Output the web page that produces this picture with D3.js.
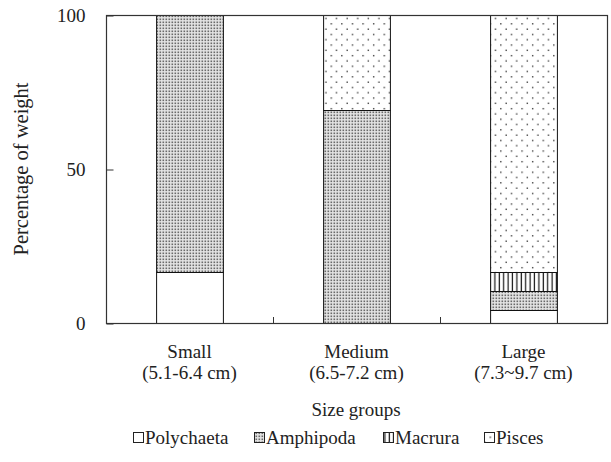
<!DOCTYPE html>
<html><head><meta charset="utf-8">
<script src="https://cdn.jsdelivr.net/npm/d3@7"></script>
<style>body{margin:0;background:#fff}svg{display:block}</style>
</head><body>
<svg id="c" width="611" height="462"></svg>
<script>
const categories = ["Small", "Medium", "Large"];
const subLabels = ["(5.1-6.4 cm)", "(6.5-7.2 cm)", "(7.3~9.7 cm)"];
const seriesNames = ["Polychaeta", "Amphipoda", "Macrura", "Pisces"];
const polychaeta = [16.5, 0, 4.3];
const amphipoda = [83.5, 69, 6.2];
const macrura = [0, 0, 6.2];
const pisces = [0, 31, 83.3];
const yTicks = [0, 50, 100];

const SERIF = "'Liberation Serif','Times New Roman',serif";
const svg = d3.select("#c");
const m = {l:106, t:15, r:4, b:139};
const W = 611, H = 462;
const x = d3.scaleBand().domain(categories).range([m.l, W - m.r]).paddingInner(0.6).paddingOuter(0.3);
const xb = d3.scaleBand().domain(categories).range([m.l, W - m.r]);
const y = d3.scaleLinear().domain([0, 100]).range([H - m.b, m.t]);

const defs = svg.append("defs");
let p = defs.append("pattern").attr("id","pAmph").attr("patternUnits","userSpaceOnUse").attr("width",3).attr("height",3);
p.append("rect").attr("width",3).attr("height",3).attr("fill","#e4e4e4");
p.append("rect").attr("x",0.5).attr("y",0.5).attr("width",1.6).attr("height",1.6).attr("fill","#6a6a6a");
p = defs.append("pattern").attr("id","pMac").attr("patternUnits","userSpaceOnUse").attr("width",4.4).attr("height",4);
p.append("rect").attr("width",4.4).attr("height",4).attr("fill","#fff");
p.append("rect").attr("x",1.5).attr("y",0).attr("width",1.2).attr("height",4).attr("fill","#111");
p = defs.append("pattern").attr("id","pPis").attr("patternUnits","userSpaceOnUse").attr("width",10.6).attr("height",10.6);
p.append("rect").attr("width",10.6).attr("height",10.6).attr("fill","#fff");
p.append("rect").attr("x",2).attr("y",2).attr("width",1.3).attr("height",1.3).attr("fill","#222");
p.append("rect").attr("x",7.3).attr("y",7.3).attr("width",1.3).attr("height",1.3).attr("fill","#222");

const fills = ["#fff", "url(#pAmph)", "url(#pMac)", "url(#pPis)"];
const rows = categories.map((c,i)=>({cat:c, Polychaeta:polychaeta[i], Amphipoda:amphipoda[i], Macrura:macrura[i], Pisces:pisces[i]}));
const stack = d3.stack().keys(seriesNames)(rows);

stack.forEach((s,si)=>{
  svg.append("g").selectAll("rect").data(s.filter(d=>d[1]-d[0]>0)).join("rect")
    .attr("x", d=>x(d.data.cat)+0.5).attr("width", x.bandwidth())
    .attr("y", d=>Math.round(y(d[1]))+0.5).attr("height", d=>Math.round(y(d[0]))-Math.round(y(d[1])))
    .attr("fill", fills[si]).attr("stroke","#111").attr("stroke-width",1);
});

svg.append("rect").attr("x",m.l+0.5).attr("y",m.t+0.5).attr("width",W-m.r-m.l).attr("height",H-m.b-m.t)
  .attr("fill","none").attr("stroke","#333").attr("stroke-width",1.2);

const ya = svg.append("g").attr("transform",`translate(${m.l+0.5},0.5)`)
  .call(d3.axisLeft(y).tickValues(yTicks).tickSize(-7).tickPadding(21).tickFormat(d3.format("d")));
ya.select(".domain").remove();
ya.selectAll("line").attr("stroke","#333");
ya.selectAll("text").style("font-size","19px").style("font-family",SERIF).attr("fill","#222");

const bounds = categories.slice(1).map(c=>xb(c));
svg.append("g").selectAll("line").data(bounds).join("line")
  .attr("x1",d=>d+0.5).attr("x2",d=>d+0.5).attr("y1",H-m.b).attr("y2",H-m.b-6).attr("stroke","#333");

function txt(g, xx, yy, s, size, fam){
  return g.append("text").attr("x",xx).attr("y",yy).style("font-size",size+"px").style("font-family",fam).attr("fill","#222").text(s);
}
const xl = svg.append("g");
categories.forEach((c,i)=>{
  const cx = xb(c)+xb.bandwidth()/2;
  txt(xl, cx, 358, c, 19, SERIF).attr("text-anchor","middle");
  txt(xl, cx, 379, subLabels[i], 19, SERIF).attr("text-anchor","middle");
});

txt(svg, 356, 416, "Size groups", 19, SERIF).attr("text-anchor","middle");
txt(svg, 0, 0, "Percentage of weight", 20.5, SERIF).attr("text-anchor","middle")
  .attr("transform",`translate(28,${(m.t+H-m.b)/2}) rotate(-90)`);

const legX = [133, 254, 383, 484];
const lg = svg.append("g");
seriesNames.forEach((n,i)=>{
  lg.append("rect").attr("x",legX[i]+0.5).attr("y",432.5).attr("width",10).attr("height",10)
    .attr("fill",fills[i]).attr("stroke","#222").attr("stroke-width",1);
  txt(lg, legX[i]+12, 444, n, 19, SERIF);
});
</script>
</body></html>
